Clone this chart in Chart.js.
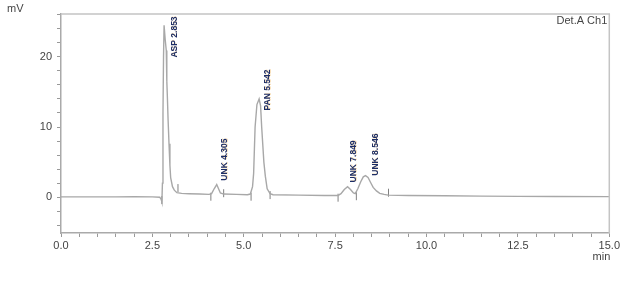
<!DOCTYPE html>
<html>
<head>
<meta charset="utf-8">
<script src="https://cdn.jsdelivr.net/npm/chart.js@4.4.1/dist/chart.umd.min.js"></script>
<style>
  html, body { margin: 0; padding: 0; background: #fff; }
  #wrap { width: 622px; height: 285px; }
</style>
</head>
<body>
<div id="wrap"><canvas id="chrom"></canvas></div>
<script>
// trace (min, mV)
const traceTime = [0.0, 0.5, 1.0, 1.5, 2.0, 2.5, 2.7, 2.74, 2.76, 2.775, 2.79, 2.805, 2.82, 2.85, 2.88, 2.895, 2.91, 2.93, 2.955, 2.98, 3.0, 3.05, 3.1, 3.17, 3.3, 3.5, 3.8,
  4.05, 4.12, 4.19, 4.26, 4.31, 4.36, 4.45, 4.8, 5.1, 5.18, 5.24, 5.27, 5.31, 5.36, 5.42, 5.46, 5.49, 5.55, 5.59, 5.64, 5.72, 5.8,
  6.5, 7.2, 7.58, 7.66, 7.75, 7.84, 7.92, 8.0, 8.05, 8.12, 8.2, 8.27, 8.33, 8.4, 8.47, 8.54, 8.63, 8.72, 8.84, 8.95,
  9.5, 10.5, 11.5, 12.5, 13.5, 15.0];
const traceSignal = [0.05, 0.05, 0.05, 0.05, 0.08, 0.05, 0.0, -0.3, -0.7, 2.0, 12, 20, 24.5, 22.5, 20.9, 16.5, 14.3, 11, 7.6, 4.5, 2.8, 1.5, 1.0, 0.65, 0.55, 0.5, 0.45,
  0.4, 0.5, 1.2, 1.8, 1.2, 0.6, 0.45, 0.4, 0.35, 0.45, 1.5, 3.4, 10, 13.2, 14, 13, 10, 5, 3, 1.2, 0.5, 0.35,
  0.3, 0.25, 0.25, 0.5, 1.1, 1.5, 1.1, 0.6, 0.5, 1.2, 2.2, 2.9, 3.07, 2.8, 2.1, 1.4, 0.9, 0.55, 0.4, 0.3,
  0.25, 0.2, 0.15, 0.12, 0.1, 0.08];

// peak start / end marks
const markTime = [2.76, 3.2, 4.1, 4.45, 5.2, 5.72, 7.58, 8.08, 8.96];
const markSignal = [-0.4, 1.3, 0.07, 0.57, 0.07, 0.3, -0.07, 0.14, 0.64];

// peak names and where their text sits
const peakNames = ['ASP 2.853', 'UNK 4.305', 'PAN 5.542', 'UNK 7.849', 'UNK 8.546'];
const peakLabelTime = [3.10, 4.48, 5.66, 8.02, 8.60];
const peakLabelBase = [19.9, 2.36, 12.36, 2.1, 3.07];

const xTicks = [];
for (let i = 0; i <= 30; i++) xTicks.push(i * 0.5);
const xLabels = [0, 2.5, 5, 7.5, 10, 12.5, 15];
const yTicks = [-4, -2, 0, 2, 4, 6, 8, 10, 12, 14, 16, 18, 20, 22, 24, 26];
const yLabels = [0, 10, 20];

const FONT = 'Liberation Sans, Arial, sans-serif';

const trace = traceTime.map((t, i) => ({ x: t, y: traceSignal[i] }));
const marks = markTime.map((t, i) => ({ x: t, y: markSignal[i] }));

const extras = {
  id: 'extras',
  afterDraw(chart) {
    const { ctx, chartArea: a, scales: { x, y } } = chart;
    ctx.save();
    // frame
    ctx.strokeStyle = '#c4c4c4';
    ctx.lineWidth = 1.5;
    ctx.beginPath();
    ctx.moveTo(a.left, a.top);
    ctx.lineTo(a.right, a.top);
    ctx.lineTo(a.right, a.bottom);
    ctx.stroke();

    ctx.fillStyle = '#444';
    ctx.font = '11px ' + FONT;
    ctx.textBaseline = 'middle';
    ctx.textAlign = 'left';
    ctx.fillText('mV', 7, 9);
    ctx.textAlign = 'right';
    ctx.fillText('Det.A Ch1', a.right - 2, a.top + 7);
    ctx.fillText('min', a.right + 1, a.bottom + 24);

    // peak labels
    ctx.font = 'bold 8.5px ' + FONT;
    ctx.textAlign = 'left';
    for (let i = 0; i < peakNames.length; i++) {
      const px = x.getPixelForValue(peakLabelTime[i]);
      const py = y.getPixelForValue(peakLabelBase[i]);
      ctx.save();
      ctx.translate(px, py);
      ctx.rotate(-Math.PI / 2);
      ctx.fillStyle = 'rgba(235,165,60,0.35)';
      ctx.fillText(peakNames[i], 0.5, 0.7);
      ctx.fillStyle = '#1c2d66';
      ctx.fillText(peakNames[i], 0, 0);
      ctx.restore();
    }
    ctx.restore();
  }
};

new Chart(document.getElementById('chrom'), {
  type: 'line',
  data: {
    datasets: [
      {
        data: trace,
        borderColor: '#a8a8a8',
        borderWidth: 1.4,
        pointRadius: 0,
        tension: 0,
        fill: false
      },
      {
        data: marks,
        showLine: false,
        pointStyle: 'line',
        rotation: 90,
        pointRadius: 4,
        borderColor: '#808080',
        borderWidth: 1
      }
    ]
  },
  options: {
    responsive: true,
    maintainAspectRatio: false,
    animation: false,
    layout: { padding: { top: 14, right: 10, left: 0, bottom: 0 } },
    plugins: { legend: { display: false }, tooltip: { enabled: false } },
    scales: {
      x: {
        type: 'linear',
        min: 0,
        max: 15,
        afterBuildTicks: s => { s.ticks = xTicks.map(v => ({ value: v })); },
        afterFit: s => { s.height = 52; },
        border: { display: true, color: '#aaa', width: 1.5 },
        grid: { drawOnChartArea: false, color: '#999', tickLength: 4 },
        ticks: {
          padding: 2,
          autoSkip: false,
          maxRotation: 0,
          color: '#444',
          font: { family: FONT, size: 11 },
          callback: v => xLabels.includes(v) ? v.toFixed(1) : ''
        }
      },
      y: {
        min: -5.1,
        max: 26.1,
        afterBuildTicks: s => { s.ticks = yTicks.map(v => ({ value: v })); },
        afterFit: s => { s.width = 61; },
        border: { display: true, color: '#aaa', width: 1.5 },
        grid: { drawOnChartArea: false, color: '#999', tickLength: 4 },
        ticks: {
          padding: 5,
          autoSkip: false,
          color: '#444',
          font: { family: FONT, size: 11 },
          callback: v => yLabels.includes(v) ? String(v) : ''
        }
      }
    }
  },
  plugins: [extras]
});
</script>
</body>
</html>
